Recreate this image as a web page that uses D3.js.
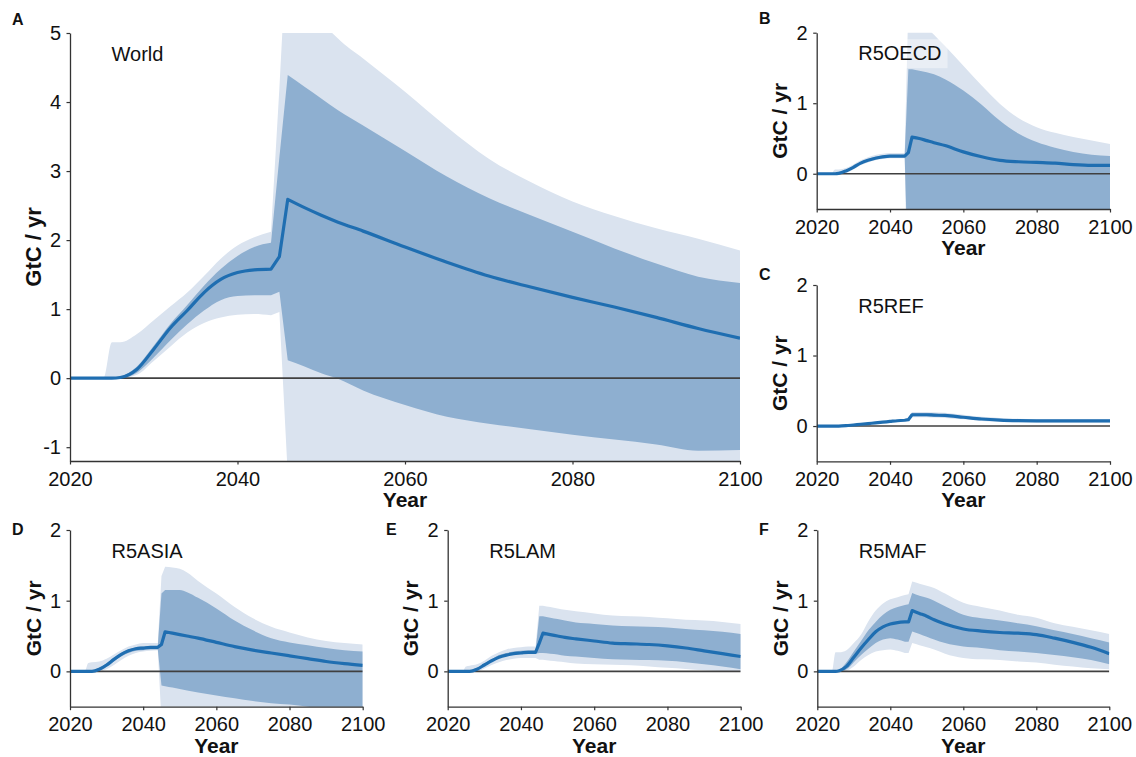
<!DOCTYPE html>
<html>
<head>
<meta charset="utf-8">
<script src="https://cdn.jsdelivr.net/npm/d3@7"></script>
<style>
  html, body { margin: 0; padding: 0; background: #fff; }
  svg { display: block; }
  text { font-family: "Liberation Sans", Arial, Helvetica, sans-serif; }
</style>
</head>
<body>
<svg id="chart" width="1136" height="757"></svg>
<script>
// ---------------- DATA ----------------
const years = [2020, 2024, 2025, 2026, 2028, 2030, 2032, 2034, 2036, 2038, 2040, 2042, 2044, 2045,
               2046, 2048, 2050, 2052, 2055, 2060, 2065, 2070, 2075, 2080, 2085, 2090, 2095, 2100];

const xTicks = [2020, 2040, 2060, 2080, 2100];
const worldYTicks = [-1, 0, 1, 2, 3, 4, 5];
const regionYTicks = [0, 1, 2];
const worldYDomain = [-1.2, 5];
const regionYDomain = [-0.5, 2];

// World
const worldMedian = [0, 0, 0, 0.01, 0.13, 0.42, 0.73, 0.98, 1.24, 1.43, 1.53, 1.57, 1.58, 1.76,
                     2.59, 2.47, 2.36, 2.26, 2.13, 1.90, 1.68, 1.48, 1.32, 1.17, 1.03, 0.88, 0.72, 0.58];
const worldHi50 = [0, 0, 0, 0.02, 0.17, 0.47, 0.79, 1.06, 1.34, 1.58, 1.77, 1.90, 1.96, 3.2,
                   4.39, 4.22, 4.05, 3.88, 3.66, 3.29, 2.92, 2.61, 2.36, 2.12, 1.88, 1.66, 1.47, 1.38];
const worldLo50 = [0, 0, 0, 0, 0.08, 0.30, 0.55, 0.78, 0.98, 1.13, 1.19, 1.20, 1.20, 1.25,
                   0.26, 0.17, 0.07, -0.01, -0.18, -0.39, -0.56, -0.66, -0.74, -0.82, -0.89, -0.96, -1.05, -1.04];
const worldHi95 = [0, 0, 0.52, 0.52, 0.64, 0.84, 1.04, 1.24, 1.48, 1.73, 1.92, 2.04, 2.12, 4.2,
                   6.5, 5.8, 5.2, 4.92, 4.63, 4.15, 3.64, 3.18, 2.84, 2.56, 2.35, 2.17, 2.02, 1.85];
const worldLo95 = [0, 0, 0, 0, 0.05, 0.25, 0.46, 0.66, 0.80, 0.88, 0.92, 0.93, 0.91, 0.96,
                   -1.4, -1.7, -2.0, -2.2, -2.4, -2.6, -2.7, -2.8, -2.9, -3.0, -3.0, -3.1, -3.1, -3.2];

// R5OECD
const oecdMedian = [0, 0, 0, 0.005, 0.04, 0.09, 0.15, 0.19, 0.22, 0.24, 0.25, 0.25, 0.25, 0.30,
                    0.52, 0.50, 0.47, 0.44, 0.40, 0.31, 0.24, 0.19, 0.17, 0.16, 0.15, 0.13, 0.12, 0.12];
const oecdHi50 = [0, 0, 0.01, 0.015, 0.055, 0.105, 0.165, 0.21, 0.24, 0.26, 0.27, 0.27, 0.27, 1.48,
                  1.48, 1.46, 1.44, 1.41, 1.34, 1.18, 0.98, 0.75, 0.57, 0.45, 0.37, 0.31, 0.27, 0.25];
const oecdLo50 = [0, 0, 0, 0, 0.03, 0.08, 0.14, 0.18, 0.21, 0.23, 0.24, 0.24, 0.24, -1.6,
                  -1.6, -1.5, -1.4, -1.3, -1.2, -1.0, -0.9, -0.8, -0.75, -0.7, -0.7, -0.65, -0.65, -0.6];
const oecdHi95 = [0, 0, 0.06, 0.06, 0.08, 0.13, 0.19, 0.235, 0.265, 0.285, 0.295, 0.295, 0.295, 2.4,
                  2.4, 2.2, 2.08, 1.97, 1.81, 1.53, 1.25, 0.99, 0.79, 0.66, 0.58, 0.52, 0.47, 0.42];
const oecdLo95 = [0, 0, 0, -0.01, 0.01, 0.06, 0.12, 0.16, 0.19, 0.21, 0.22, 0.22, 0.22, -2.5,
                  -2.5, -2.4, -2.3, -2.2, -2.0, -1.8, -1.6, -1.5, -1.4, -1.3, -1.3, -1.2, -1.2, -1.2];

// R5REF
const refMedian = [0, 0, 0, 0, 0.005, 0.015, 0.025, 0.035, 0.045, 0.055, 0.065, 0.075, 0.082, 0.09,
                   0.16, 0.16, 0.16, 0.155, 0.15, 0.125, 0.10, 0.085, 0.077, 0.073, 0.072, 0.072, 0.072, 0.072];
const refHi50 = [0, 0, 0, 0.003, 0.008, 0.02, 0.03, 0.04, 0.05, 0.06, 0.07, 0.08, 0.088, 0.10,
                 0.18, 0.18, 0.18, 0.175, 0.17, 0.14, 0.115, 0.10, 0.09, 0.087, 0.086, 0.086, 0.086, 0.086];
const refLo50 = [0, 0, 0, 0, 0.002, 0.01, 0.02, 0.03, 0.04, 0.05, 0.06, 0.07, 0.077, 0.08,
                 0.14, 0.14, 0.14, 0.135, 0.13, 0.11, 0.085, 0.072, 0.065, 0.06, 0.058, 0.058, 0.058, 0.058];
const refHi95 = [0, 0, 0.005, 0.006, 0.012, 0.025, 0.036, 0.046, 0.056, 0.066, 0.076, 0.086, 0.094, 0.11,
                 0.20, 0.20, 0.20, 0.195, 0.19, 0.16, 0.13, 0.115, 0.105, 0.10, 0.10, 0.10, 0.10, 0.10];
const refLo95 = [0, 0, 0, 0, 0, 0.005, 0.015, 0.025, 0.035, 0.045, 0.055, 0.065, 0.072, 0.075,
                 0.125, 0.125, 0.125, 0.12, 0.115, 0.095, 0.072, 0.06, 0.052, 0.048, 0.046, 0.046, 0.046, 0.046];

// R5ASIA
const asiaMedian = [0, 0, 0, 0, 0.03, 0.09, 0.17, 0.24, 0.29, 0.32, 0.33, 0.34, 0.34, 0.38,
                    0.56, 0.54, 0.52, 0.50, 0.47, 0.41, 0.35, 0.30, 0.26, 0.22, 0.18, 0.14, 0.11, 0.085];
const asiaHi50 = [0, 0, 0, 0.01, 0.05, 0.11, 0.19, 0.26, 0.31, 0.34, 0.35, 0.36, 0.36, 1.10,
                  1.15, 1.15, 1.15, 1.12, 1.04, 0.89, 0.72, 0.58, 0.47, 0.41, 0.37, 0.33, 0.30, 0.28];
const asiaLo50 = [0, 0, 0, 0, 0.01, 0.06, 0.14, 0.21, 0.26, 0.29, 0.30, 0.31, 0.31, -0.20,
                  -0.21, -0.23, -0.25, -0.27, -0.30, -0.34, -0.38, -0.42, -0.45, -0.47, -0.50, -0.52, -0.55, -0.56];
const asiaHi95 = [0, 0, 0.12, 0.13, 0.14, 0.18, 0.24, 0.30, 0.35, 0.38, 0.40, 0.40, 0.40, 1.35,
                  1.48, 1.47, 1.45, 1.40, 1.28, 1.10, 0.91, 0.75, 0.63, 0.55, 0.48, 0.43, 0.40, 0.38];
const asiaLo95 = [0, 0, 0, 0, 0, 0.03, 0.09, 0.16, 0.22, 0.26, 0.28, 0.29, 0.30, -0.7,
                  -1.0, -1.05, -1.1, -1.15, -1.2, -1.25, -1.3, -1.35, -1.4, -1.4, -1.45, -1.45, -1.5, -1.5];

// R5LAM
const lamMedian = [0, 0, 0, 0, 0.03, 0.09, 0.15, 0.20, 0.23, 0.25, 0.26, 0.27, 0.27, 0.40,
                   0.54, 0.52, 0.50, 0.48, 0.46, 0.43, 0.40, 0.39, 0.38, 0.36, 0.33, 0.29, 0.25, 0.21];
const lamHi50 = [0, 0, 0, 0.01, 0.05, 0.11, 0.17, 0.23, 0.26, 0.28, 0.29, 0.30, 0.30, 0.78,
                 0.78, 0.76, 0.74, 0.72, 0.69, 0.67, 0.65, 0.64, 0.63, 0.62, 0.60, 0.58, 0.56, 0.53];
const lamLo50 = [0, 0, 0, 0, 0.02, 0.08, 0.14, 0.19, 0.22, 0.24, 0.25, 0.25, 0.25, 0.26,
                 0.26, 0.25, 0.24, 0.22, 0.21, 0.19, 0.17, 0.165, 0.16, 0.15, 0.13, 0.10, 0.07, 0.03];
const lamHi95 = [0, 0, 0.07, 0.08, 0.10, 0.15, 0.22, 0.27, 0.31, 0.33, 0.34, 0.35, 0.35, 0.93,
                 0.93, 0.91, 0.89, 0.87, 0.85, 0.82, 0.79, 0.78, 0.77, 0.75, 0.73, 0.72, 0.70, 0.67];
const lamLo95 = [0, 0, 0, 0, 0, 0.04, 0.09, 0.13, 0.16, 0.18, 0.19, 0.19, 0.19, 0.165,
                 0.165, 0.15, 0.14, 0.13, 0.11, 0.10, 0.095, 0.085, 0.07, 0.05, 0.035, 0.015, 0.005, -0.01];

// R5MAF
const mafMedian = [0, 0, 0, 0.01, 0.07, 0.20, 0.33, 0.45, 0.56, 0.63, 0.67, 0.69, 0.70, 0.70,
                   0.86, 0.82, 0.78, 0.73, 0.67, 0.60, 0.57, 0.55, 0.54, 0.52, 0.47, 0.41, 0.34, 0.25];
const mafHi50 = [0, 0, 0, 0.02, 0.13, 0.28, 0.43, 0.58, 0.70, 0.80, 0.87, 0.91, 0.94, 0.95,
                 1.11, 1.07, 1.04, 1.00, 0.92, 0.80, 0.75, 0.72, 0.68, 0.64, 0.58, 0.53, 0.47, 0.41];
const mafLo50 = [0, 0, 0, 0, 0.03, 0.13, 0.23, 0.32, 0.40, 0.45, 0.47, 0.45, 0.42, 0.42,
                 0.565, 0.53, 0.49, 0.45, 0.40, 0.35, 0.33, 0.30, 0.28, 0.26, 0.23, 0.20, 0.16, 0.10];
const mafHi95 = [0, 0, 0.27, 0.27, 0.30, 0.40, 0.52, 0.71, 0.86, 0.96, 1.02, 1.05, 1.08, 1.09,
                 1.27, 1.24, 1.21, 1.18, 1.10, 0.97, 0.91, 0.86, 0.80, 0.76, 0.68, 0.63, 0.58, 0.53];
const mafLo95 = [0, 0, 0, 0, 0.01, 0.07, 0.16, 0.23, 0.28, 0.30, 0.31, 0.29, 0.26, 0.26,
                 0.40, 0.37, 0.34, 0.31, 0.25, 0.19, 0.17, 0.16, 0.14, 0.125, 0.095, 0.07, 0.045, 0.03];

const panelLetters = ["A", "B", "C", "D", "E", "F"];
const panelNames = ["World", "R5OECD", "R5REF", "R5ASIA", "R5LAM", "R5MAF"];
const yLabel = "GtC / yr";
const xLabel = "Year";

// ---------------- LAYOUT ----------------
const layout = [
  { x0: 70,    x1: 740,    yt: 33,    yb: 461,   yLabFs: 22 },
  { x0: 816.7, x1: 1110,   yt: 32.7,  yb: 209,   yLabFs: 21 },
  { x0: 816.7, x1: 1110,   yt: 285,   yb: 461.3, yLabFs: 21 },
  { x0: 70,    x1: 362.7,  yt: 530,   yb: 706.7, yLabFs: 21 },
  { x0: 447.7, x1: 740.7,  yt: 530,   yb: 706.7, yLabFs: 21 },
  { x0: 817.3, x1: 1109.3, yt: 530,   yb: 706.7, yLabFs: 21 }
];
const letterPos = [[12, 25], [759, 23.5], [759, 280], [12, 535], [386, 535], [759, 535]];

const series = [
  { med: worldMedian, lo50: worldLo50, hi50: worldHi50, lo95: worldLo95, hi95: worldHi95, dom: worldYDomain, ticks: worldYTicks },
  { med: oecdMedian,  lo50: oecdLo50,  hi50: oecdHi50,  lo95: oecdLo95,  hi95: oecdHi95,  dom: regionYDomain, ticks: regionYTicks },
  { med: refMedian,   lo50: refLo50,   hi50: refHi50,   lo95: refLo95,   hi95: refHi95,   dom: regionYDomain, ticks: regionYTicks },
  { med: asiaMedian,  lo50: asiaLo50,  hi50: asiaHi50,  lo95: asiaLo95,  hi95: asiaHi95,  dom: regionYDomain, ticks: regionYTicks },
  { med: lamMedian,   lo50: lamLo50,   hi50: lamHi50,   lo95: lamLo95,   hi95: lamHi95,   dom: regionYDomain, ticks: regionYTicks },
  { med: mafMedian,   lo50: mafLo50,   hi50: mafHi50,   lo95: mafLo95,   hi95: mafHi95,   dom: regionYDomain, ticks: regionYTicks }
];

const COLOR_LIGHT = "#dae3ef";
const COLOR_DARK = "#8eafd0";
const COLOR_LINE = "#1f6eb1";
const AXIS_COLOR = "#333";
const FONT_SIZE = 20;

// smooth pieces before / after the 2045 step, straight through the step itself
const N = years.length;
const iStepStart = years.indexOf(2044);
const iStepEnd = years.indexOf(2046);
const pieces = [
  { from: 0, to: iStepStart, curve: d3.curveMonotoneX },
  { from: iStepStart, to: iStepEnd, curve: d3.curveLinear },
  { from: iStepEnd, to: N - 1, curve: d3.curveMonotoneX }
];

function edge(vals, x, y, reverse) {
  const segs = pieces.map(pc => {
    const ids = d3.range(pc.from, pc.to + 1);
    if (reverse) ids.reverse();
    return d3.line().curve(pc.curve).x(i => x(years[i])).y(i => y(vals[i]))(ids);
  });
  if (reverse) segs.reverse();
  return segs.map((s, k) => k === 0 ? s : "L" + s.slice(1)).join("");
}
function bandPath(lo, hi, x, y) {
  const top = edge(hi, x, y, false);
  const bot = edge(lo, x, y, true);
  return top + "L" + bot.slice(1) + "Z";
}

const svg = d3.select("#chart");
svg.append("rect").attr("width", 1136).attr("height", 757).attr("fill", "#fff");
const defs = svg.append("defs");

series.forEach((s, p) => {
  const L = layout[p];
  const x = d3.scaleLinear().domain([2020, 2100]).range([L.x0, L.x1]);
  const y = d3.scaleLinear().domain(s.dom).range([L.yb, L.yt]);

  const clipId = "clip" + p;
  defs.append("clipPath").attr("id", clipId)
    .append("rect").attr("x", L.x0).attr("y", L.yt)
    .attr("width", L.x1 - L.x0).attr("height", L.yb - L.yt);

  const g = svg.append("g");
  const plot = g.append("g").attr("clip-path", `url(#${clipId})`);

  plot.append("path").attr("d", bandPath(s.lo95, s.hi95, x, y)).attr("fill", COLOR_LIGHT);
  plot.append("path").attr("d", bandPath(s.lo50, s.hi50, x, y)).attr("fill", COLOR_DARK);

  // zero line
  plot.append("line")
    .attr("x1", x(2020)).attr("x2", x(2100))
    .attr("y1", y(0)).attr("y2", y(0))
    .attr("stroke", "#404040").attr("stroke-width", 1.6);

  plot.append("path").attr("d", edge(s.med, x, y, false))
    .attr("fill", "none").attr("stroke", COLOR_LINE)
    .attr("stroke-width", 3.2).attr("stroke-linejoin", "round");

  // region label with translucent box
  const lblG = g.append("g");
  const lbl = lblG.append("text")
    .attr("x", L.x0 + 41.5).attr("y", L.yt + 27.5)
    .attr("font-size", FONT_SIZE).attr("fill", "#111")
    .text(panelNames[p]);
  const bb = lbl.node().getBBox();
  lblG.insert("rect", "text")
    .attr("x", bb.x - 6).attr("y", bb.y - 3)
    .attr("width", bb.width + 12).attr("height", bb.height + 7)
    .attr("fill", "#fff").attr("fill-opacity", 0.4)
    .attr("clip-path", `url(#${clipId})`);

  // axes
  const fmt = d => String(d);
  const yAxis = d3.axisLeft(y).tickValues(s.ticks).tickFormat(fmt)
    .tickSize(3.5).tickSizeOuter(0).tickPadding(5.5);
  const xAxis = d3.axisBottom(x).tickValues(xTicks).tickFormat(fmt)
    .tickSize(3.5).tickSizeOuter(0).tickPadding(7);

  const ya = g.append("g").attr("transform", `translate(${L.x0},0)`).call(yAxis);
  const xa = g.append("g").attr("transform", `translate(0,${L.yb})`).call(xAxis);
  [ya, xa].forEach(a => {
    a.selectAll(".domain").attr("stroke", AXIS_COLOR).attr("stroke-width", 1.3);
    a.selectAll(".tick line").attr("stroke", AXIS_COLOR).attr("stroke-width", 1.2);
    a.selectAll(".tick text").attr("font-size", FONT_SIZE).attr("fill", "#111")
      .attr("font-family", '"Liberation Sans", Arial, Helvetica, sans-serif');
  });

  // axis titles
  g.append("text")
    .attr("transform", `translate(${L.x0 - 37},${(L.yt + L.yb) / 2}) rotate(-90)`)
    .attr("text-anchor", "middle").attr("dy", "0.36em")
    .attr("font-size", L.yLabFs).attr("font-weight", "bold").attr("fill", "#111")
    .text(yLabel);
  g.append("text")
    .attr("x", (L.x0 + L.x1) / 2).attr("y", L.yb + 46)
    .attr("text-anchor", "middle")
    .attr("font-size", 21).attr("font-weight", "bold").attr("fill", "#111")
    .text(xLabel);

  // panel letter
  g.append("text")
    .attr("x", letterPos[p][0]).attr("y", letterPos[p][1])
    .attr("font-size", 16).attr("font-weight", "bold").attr("fill", "#111")
    .text(panelLetters[p]);
});
</script>
</body>
</html>
